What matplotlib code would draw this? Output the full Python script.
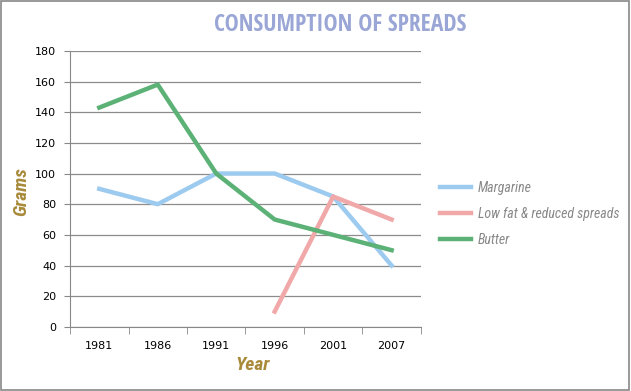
import numpy as np
import matplotlib
matplotlib.use("Agg")
import matplotlib.pyplot as plt
from matplotlib.patches import Rectangle

years = ["1981", "1986", "1991", "1996", "2001", "2007"]
margarine = [90, 80, 100, 100, 85, 40]
low_fat = [np.nan, np.nan, np.nan, 10, 85, 70]
butter = [143, 158, 100, 70, 60, 50]

fig = plt.figure(figsize=(6.31, 3.91), dpi=100)
ax = fig.add_axes([0.111, 0.164, 0.556, 0.706])

x = np.arange(len(years))
ax.plot(x, margarine, color="#9dcbef", lw=3.2, label="Margarine")
ax.plot(x, low_fat, color="#f0a8a8", lw=3.2, label="Low fat & reduced spreads")
ax.plot(x, butter, color="#5cb276", lw=3.2, label="Butter")

ax.set_xlim(-0.5, len(years) - 0.5)
ax.set_ylim(0, 180)
ax.set_yticks(range(0, 181, 20))
ax.set_xticks(x)
ax.set_xticklabels(years)
ax.set_xticks(np.arange(-0.5, len(years)), minor=True)
ax.tick_params(axis="x", which="major", length=0, pad=10, labelsize=8)
ax.tick_params(axis="x", which="minor", length=5, color="#888888")
ax.tick_params(axis="y", length=4, color="#888888", labelsize=8, pad=6)
ax.grid(axis="y", color="#8c8c8c", lw=0.9)
ax.set_axisbelow(True)
for s in ["top", "right"]:
    ax.spines[s].set_visible(False)
for s in ["left", "bottom"]:
    ax.spines[s].set_color("#888888")

ax.set_xlabel("Year", color="#a88a3a", fontsize=14, fontweight="bold",
              style="italic", family="Roboto Condensed")
ax.set_ylabel("Grams", color="#a88a3a", fontsize=14, fontweight="bold",
              style="italic", family="Roboto Condensed")
ax.xaxis.set_label_coords(0.521, -0.105)
ax.yaxis.set_label_coords(-0.112, 0.49)

fig.text(0.539, 0.936, "CONSUMPTION OF SPREADS", ha="center", va="center",
         color="#9aa6d6", fontsize=17, fontweight="bold",
         family="Open Sans Condensed")

leg = ax.legend(loc="center left", bbox_to_anchor=(1.02, 0.41), frameon=False,
                handlelength=2.2, handletextpad=0.5, labelspacing=0.85,
                labelcolor="#888888",
                prop={"style": "italic", "family": "Roboto Condensed", "size": 10})

fig.patches.append(Rectangle((0.002, 0.003), 0.995, 0.994, transform=fig.transFigure,
                             fill=False, edgecolor="#888888", lw=1.2))

fig.savefig("out.png", dpi=100)
